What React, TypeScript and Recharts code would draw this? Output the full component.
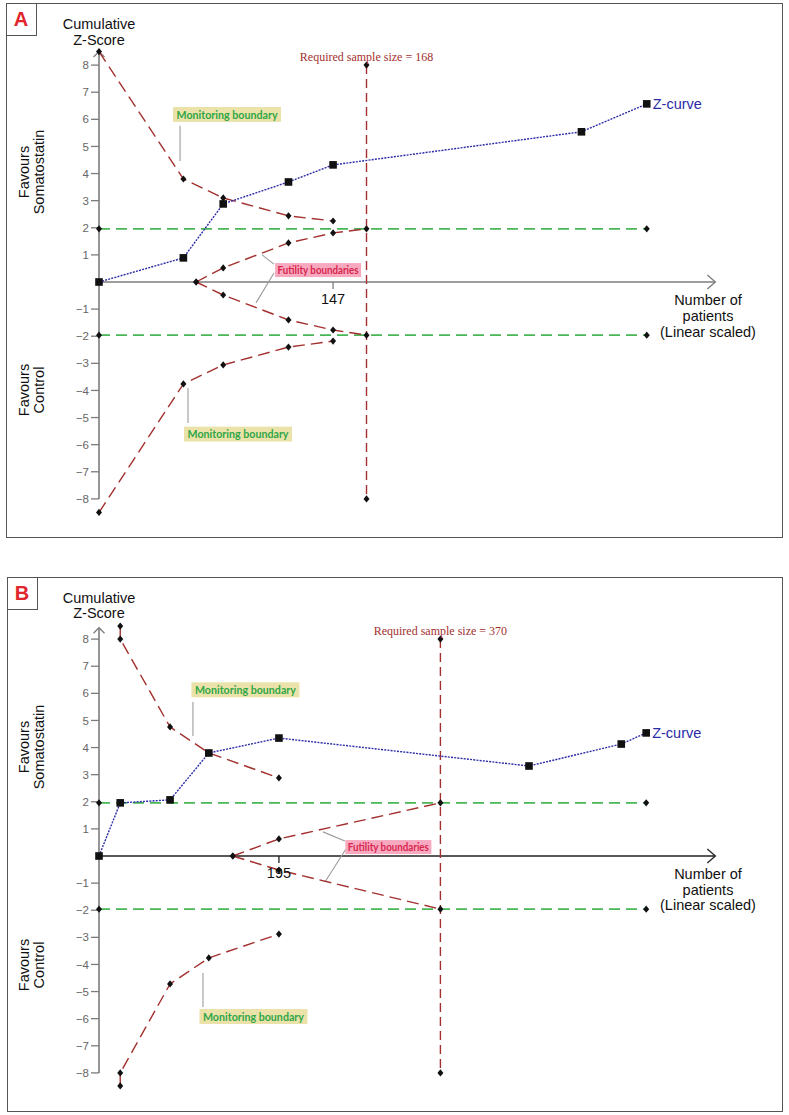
import React from 'react';
import { ComposedChart, Line, XAxis, YAxis, ReferenceLine, ReferenceDot } from 'recharts';

const SANS = '"Liberation Sans", Arial, sans-serif';
const SERIF = '"Liberation Serif", "Times New Roman", serif';
const TAG_FONT = 'Lato, "Open Sans", sans-serif';

const RED = '#a3302e';
const BLUE = '#2b2ba8';
const GREEN = '#48b657';
const AXIS_GRAY = '#7c7c7c';
const CONNECTOR = '#9c9c9c';

// Shared scale settings
const zTicks = [-8, -7, -6, -5, -4, -3, -2, -1, 1, 2, 3, 4, 5, 6, 7, 8];
const conventionalZ = 1.96;
const requiredLineZ = 8;

// Panel A: cumulative Z-curve
const aZPatients = [0, 53, 78, 119, 147, 303, 344];
const aZScores = [0, 0.89, 2.88, 3.69, 4.32, 5.54, 6.57];
// Panel A: monitoring boundaries
const aBoundPatients = [0, 53, 78, 119, 147];
const aUpperBound = [8.5, 3.8, 3.1, 2.44, 2.25];
const aLowerBound = [-8.5, -3.76, -3.06, -2.4, -2.18];
// Panel A: futility boundaries
const aFutPatients = [61, 78, 119, 147, 168];
const aFutUpper = [0, 0.52, 1.44, 1.81, 1.96];
const aFutLower = [0, -0.48, -1.4, -1.77, -1.96];
const aRequired = 168;
const aTick = 147;

// Panel B: cumulative Z-curve
const bZPatients = [0, 23, 77, 119, 195, 466, 566, 593];
const bZScores = [0, 1.96, 2.07, 3.8, 4.35, 3.32, 4.13, 4.54];
// Panel B: monitoring boundaries
const bBoundPatients = [23, 23, 77, 119, 195];
const bUpperBound = [8.48, 8.0, 4.76, 3.8, 2.88];
const bLowerBound = [-8.48, -8.0, -4.72, -3.76, -2.88];
// Panel B: futility boundaries
const bFutPatients = [145, 195, 370];
const bFutUpper = [0, 0.63, 1.96];
const bFutLower = [0, -0.52, -1.96];
const bRequired = 370;
const bTick = 195;

type Pt = { n: number; z: number };
const zip = (ns: number[], zs: number[]): Pt[] => ns.map((n, i) => ({ n, z: zs[i] }));

type Tag = { n: number; z: number; leader: [Pt, Pt][] };

type PanelSpec = {
  letter: string;
  top: number;
  height: number;
  marginTop: number;
  marginBottom: number;
  xMax: number;
  yAxisTop: number;
  xAxisColor: string;
  zPatients: number[];
  zScores: number[];
  boundPatients: number[];
  upperBound: number[];
  lowerBound: number[];
  futPatients: number[];
  futUpper: number[];
  futLower: number[];
  required: number;
  tick: number;
  upperTag: Tag;
  lowerTag: Tag;
  futTag: Tag;
};

const panelA: PanelSpec = {
  letter: 'A',
  top: 0,
  height: 560,
  marginTop: 38,
  marginBottom: 34,
  xMax: 390,
  yAxisTop: 8.5,
  xAxisColor: AXIS_GRAY,
  zPatients: aZPatients,
  zScores: aZScores,
  boundPatients: aBoundPatients,
  upperBound: aUpperBound,
  lowerBound: aLowerBound,
  futPatients: aFutPatients,
  futUpper: aFutUpper,
  futLower: aFutLower,
  required: aRequired,
  tick: aTick,
  upperTag: { n: 80.4, z: 6.18, leader: [[{ n: 50.9, z: 5.76 }, { n: 50.9, z: 4.46 }]] },
  lowerTag: { n: 87.3, z: -5.61, leader: [[{ n: 55.9, z: -3.91 }, { n: 55.9, z: -5.2 }]] },
  futTag: {
    n: 137.6,
    z: 0.44,
    leader: [
      [{ n: 102.4, z: 1.0 }, { n: 109.9, z: 0.66 }],
      [{ n: 109.9, z: 0.33 }, { n: 98.6, z: -0.77 }],
    ],
  },
};

const panelB: PanelSpec = {
  letter: 'B',
  top: 570,
  height: 545,
  marginTop: 42,
  marginBottom: 15,
  xMax: 673,
  yAxisTop: 8.42,
  xAxisColor: '#222',
  zPatients: bZPatients,
  zScores: bZScores,
  boundPatients: bBoundPatients,
  upperBound: bUpperBound,
  lowerBound: bLowerBound,
  futPatients: bFutPatients,
  futUpper: bFutUpper,
  futLower: bFutLower,
  required: bRequired,
  tick: bTick,
  upperTag: { n: 158.7, z: 6.13, leader: [[{ n: 101.8, z: 5.68 }, { n: 101.8, z: 4.43 }]] },
  lowerTag: { n: 167.4, z: -5.92, leader: [[{ n: 112.7, z: -4.32 }, { n: 112.7, z: -5.57 }]] },
  futTag: {
    n: 313.6,
    z: 0.33,
    leader: [
      [{ n: 242.7, z: 0.89 }, { n: 266.5, z: 0.55 }],
      [{ n: 267.6, z: 0.26 }, { n: 244.9, z: -0.96 }],
    ],
  },
};

// Marker shapes
const diamond = (props: any) => {
  const { cx, cy, index } = props;
  if (cx == null || cy == null) return <g key={`d${index}`} />;
  return (
    <path
      key={`d${index}`}
      d={`M${cx},${cy - 3.6}L${cx + 3},${cy}L${cx},${cy + 3.6}L${cx - 3},${cy}Z`}
      fill="#111"
    />
  );
};

const square = (props: any) => {
  const { cx, cy, index } = props;
  if (cx == null || cy == null) return <g key={`s${index}`} />;
  return <rect key={`s${index}`} x={cx - 3.8} y={cy - 3.8} width={7.6} height={7.6} fill="#111" />;
};

// Axis line with an open chevron arrowhead at its end point
const arrowLine = (color: string, dir: 'right' | 'up') => (props: any) => {
  const { x1, y1, x2, y2 } = props;
  const head =
    dir === 'right'
      ? `${x2 - 8},${y2 - 7} ${x2},${y2} ${x2 - 8},${y2 + 7}`
      : `${x2 - 5.5},${y2 + 5.5} ${x2},${y2} ${x2 + 5.5},${y2 + 5.5}`;
  return (
    <g>
      <line x1={x1} y1={y1} x2={x2} y2={y2} stroke={color} strokeWidth={1.6} />
      <polyline points={head} fill="none" stroke={color} strokeWidth={1.3} />
    </g>
  );
};

const tagShape =
  (text: string, w: number, h: number, bg: string, color: string, fontSize: number, textW: number) =>
  (props: any) => {
    const { cx, cy } = props;
    return (
      <g>
        <rect x={cx - w / 2} y={cy - h / 2} width={w} height={h} fill={bg} />
        <text
          x={cx}
          y={cy + fontSize * 0.36}
          textAnchor="middle"
          fill={color}
          fontSize={fontSize}
          fontWeight="bold"
          fontFamily={TAG_FONT}
          textLength={textW}
          lengthAdjust="spacingAndGlyphs"
        >
          {text}
        </text>
      </g>
    );
  };

const requiredLabel = (value: number) => (props: any) => {
  const { cx, cy } = props;
  return (
    <text x={cx} y={cy - 4} textAnchor="middle" fill={RED} fontSize={12} fontFamily={SERIF}>
      {`Required sample size = ${value}`}
    </text>
  );
};

const zCurveLabel = (props: any) => {
  const { cx, cy } = props;
  return (
    <text x={cx + 6} y={cy + 5} textAnchor="start" fill={BLUE} fontSize={14.5} fontFamily={SANS}>
      Z-curve
    </text>
  );
};

const xTickMark = (value: number, color: string) => (props: any) => {
  const { cx, cy } = props;
  return (
    <g>
      <line x1={cx} y1={cy} x2={cx} y2={cy + 7} stroke={color} strokeWidth={1.3} />
      <text x={cx} y={cy + 22} textAnchor="middle" fill="#111" fontSize={14.5} fontFamily={SANS}>
        {String(value)}
      </text>
    </g>
  );
};

const fmtZ = (v: number) => (v < 0 ? `\u2212${Math.abs(v)}` : String(v));

const BOUNDARY_DASH = '12 6';
const GREEN_DASH = '11 6';
const REQUIRED_DASH = '9 5';

function TrialChart({ p }: { p: PanelSpec }) {
  const zCurve = zip(p.zPatients, p.zScores);
  const upper = zip(p.boundPatients, p.upperBound);
  const lower = zip(p.boundPatients, p.lowerBound);
  const futU = zip(p.futPatients, p.futUpper);
  const futL = zip(p.futPatients, p.futLower);
  const lastN = p.zPatients[p.zPatients.length - 1];
  const lastZ = p.zScores[p.zScores.length - 1];
  const greenU = [
    { n: 0, z: conventionalZ },
    { n: lastN, z: conventionalZ },
  ];
  const greenL = [
    { n: 0, z: -conventionalZ },
    { n: lastN, z: -conventionalZ },
  ];
  const requiredLine = [
    { n: p.required, z: requiredLineZ },
    { n: p.required, z: -requiredLineZ },
  ];
  const arrowEnd = p.xMax * 0.9925;
  const tags = [
    { t: p.upperTag, kind: 'mon' },
    { t: p.lowerTag, kind: 'mon' },
    { t: p.futTag, kind: 'fut' },
  ];

  return (
    <div style={{ position: 'absolute', left: 0, top: p.top, width: 789, height: p.height }}>
      <ComposedChart
        width={789}
        height={p.height}
        margin={{ top: p.marginTop, right: 69, bottom: p.marginBottom, left: 0 }}
      >
        <XAxis type="number" dataKey="n" domain={[0, p.xMax]} hide />
        <YAxis
          type="number"
          dataKey="z"
          domain={[-9, 9]}
          ticks={zTicks}
          width={99}
          axisLine={false}
          tickLine={{ stroke: AXIS_GRAY, strokeWidth: 1.3 }}
          tickSize={8}
          tickMargin={2}
          tickFormatter={fmtZ}
          tick={{ fill: '#666', fontSize: 11.5, fontFamily: SANS }}
          interval={0}
        />

        {/* axes drawn inside the plot */}
        <ReferenceLine
          segment={[
            { x: 0, y: -8 },
            { x: 0, y: p.yAxisTop },
          ]}
          stroke={AXIS_GRAY}
          shape={arrowLine(AXIS_GRAY, 'up')}
        />
        <ReferenceLine
          segment={[
            { x: 0, y: 0 },
            { x: arrowEnd, y: 0 },
          ]}
          stroke={p.xAxisColor}
          shape={arrowLine(p.xAxisColor, 'right')}
        />
        <ReferenceDot x={p.tick} y={0} r={0} shape={xTickMark(p.tick, p.xAxisColor)} />

        {/* leader lines for annotations */}
        {tags.flatMap(({ t }, i) =>
          t.leader.map((seg, j) => (
            <ReferenceLine
              key={`lead${i}-${j}`}
              segment={[
                { x: seg[0].n, y: seg[0].z },
                { x: seg[1].n, y: seg[1].z },
              ]}
              stroke={CONNECTOR}
              strokeWidth={1.1}
            />
          ))
        )}

        <Line
          data={greenU}
          dataKey="z"
          stroke={GREEN}
          strokeWidth={1.6}
          strokeDasharray={GREEN_DASH}
          dot={diamond}
          activeDot={false}
          isAnimationActive={false}
        />
        <Line
          data={greenL}
          dataKey="z"
          stroke={GREEN}
          strokeWidth={1.6}
          strokeDasharray={GREEN_DASH}
          dot={diamond}
          activeDot={false}
          isAnimationActive={false}
        />
        <Line
          data={requiredLine}
          dataKey="z"
          stroke={RED}
          strokeWidth={1.4}
          strokeDasharray={REQUIRED_DASH}
          dot={diamond}
          activeDot={false}
          isAnimationActive={false}
        />
        <Line
          data={futU}
          dataKey="z"
          stroke={RED}
          strokeWidth={1.4}
          strokeDasharray={BOUNDARY_DASH}
          dot={diamond}
          activeDot={false}
          isAnimationActive={false}
        />
        <Line
          data={futL}
          dataKey="z"
          stroke={RED}
          strokeWidth={1.4}
          strokeDasharray={BOUNDARY_DASH}
          dot={diamond}
          activeDot={false}
          isAnimationActive={false}
        />
        <Line
          data={upper}
          dataKey="z"
          stroke={RED}
          strokeWidth={1.4}
          strokeDasharray={BOUNDARY_DASH}
          dot={diamond}
          activeDot={false}
          isAnimationActive={false}
        />
        <Line
          data={lower}
          dataKey="z"
          stroke={RED}
          strokeWidth={1.4}
          strokeDasharray={BOUNDARY_DASH}
          dot={diamond}
          activeDot={false}
          isAnimationActive={false}
        />
        <Line
          data={zCurve}
          dataKey="z"
          stroke={BLUE}
          strokeWidth={1.4}
          strokeDasharray="2 1.2"
          dot={square}
          activeDot={false}
          isAnimationActive={false}
        />

        <ReferenceDot x={p.required} y={requiredLineZ} r={0} shape={requiredLabel(p.required)} />
        <ReferenceDot x={lastN} y={lastZ} r={0} shape={zCurveLabel} />

        {tags.map(({ t, kind }, i) => (
          <ReferenceDot
            key={`tag${i}`}
            x={t.n}
            y={t.z}
            r={0}
            shape={
              kind === 'mon'
                ? tagShape('Monitoring boundary', 108, 15, '#ebe2a9', '#2fa647', 12, 101)
                : tagShape('Futility boundaries', 86, 14, '#f7a9bf', '#d8264f', 11, 81)
            }
          />
        ))}
      </ComposedChart>
    </div>
  );
}

type Frame = {
  left: number;
  top: number;
  width: number;
  height: number;
  yTitleTop: number;
  yTitleLH: number;
  favSomY: number;
  favCtlY: number;
  xTitleTop: number;
  xTitleLH: number;
};

const frameA: Frame = {
  left: 6,
  top: 3,
  width: 777,
  height: 535,
  yTitleTop: 16,
  yTitleLH: 16,
  favSomY: 172,
  favCtlY: 390,
  xTitleTop: 292,
  xTitleLH: 16,
};
const frameB: Frame = {
  left: 7,
  top: 577,
  width: 776,
  height: 535,
  yTitleTop: 591,
  yTitleLH: 15,
  favSomY: 747,
  favCtlY: 965,
  xTitleTop: 867,
  xTitleLH: 15.5,
};

const textBase: React.CSSProperties = {
  position: 'absolute',
  fontFamily: SANS,
  fontSize: 14.5,
  color: '#111',
  whiteSpace: 'nowrap',
  textAlign: 'center',
};

function PanelFrame({ f, letter }: { f: Frame; letter: string }) {
  return (
    <>
      <div
        style={{
          position: 'absolute',
          left: f.left,
          top: f.top,
          width: f.width,
          height: f.height,
          border: '1.5px solid #555',
          boxSizing: 'border-box',
          background: '#fff',
        }}
      />
      <div
        style={{
          position: 'absolute',
          left: f.left,
          top: f.top,
          width: 31,
          height: 33,
          borderRight: '1.3px solid #555',
          borderBottom: '1.3px solid #555',
          boxSizing: 'border-box',
          fontFamily: SANS,
          fontWeight: 'bold',
          fontSize: 20,
          color: '#e0262c',
          textAlign: 'center',
          lineHeight: '32px',
        }}
      >
        {letter}
      </div>
    </>
  );
}

function PanelTitles({ f }: { f: Frame }) {
  return (
    <>
      <div
        style={{
          ...textBase,
          left: 99,
          top: f.yTitleTop,
          transform: 'translateX(-50%)',
          lineHeight: `${f.yTitleLH}px`,
        }}
      >
        Cumulative
        <br />
        Z-Score
      </div>
      <div
        style={{
          ...textBase,
          left: 31.5,
          top: f.favSomY,
          transform: 'translate(-50%,-50%) rotate(-90deg)',
          lineHeight: '15px',
        }}
      >
        Favours
        <br />
        Somatostatin
      </div>
      <div
        style={{
          ...textBase,
          left: 31.5,
          top: f.favCtlY,
          transform: 'translate(-50%,-50%) rotate(-90deg)',
          lineHeight: '15px',
        }}
      >
        Favours
        <br />
        Control
      </div>
      <div
        style={{
          ...textBase,
          left: 708,
          top: f.xTitleTop,
          transform: 'translateX(-50%)',
          lineHeight: `${f.xTitleLH}px`,
        }}
      >
        Number of
        <br />
        patients
        <br />
        (Linear scaled)
      </div>
    </>
  );
}

export default function App() {
  return (
    <div
      style={{
        position: 'absolute',
        left: 0,
        top: 0,
        width: 789,
        height: 1115,
        background: '#fff',
        overflow: 'hidden',
      }}
    >
      <PanelFrame f={frameA} letter="A" />
      <PanelFrame f={frameB} letter="B" />
      <TrialChart p={panelA} />
      <TrialChart p={panelB} />
      <PanelTitles f={frameA} />
      <PanelTitles f={frameB} />
    </div>
  );
}
